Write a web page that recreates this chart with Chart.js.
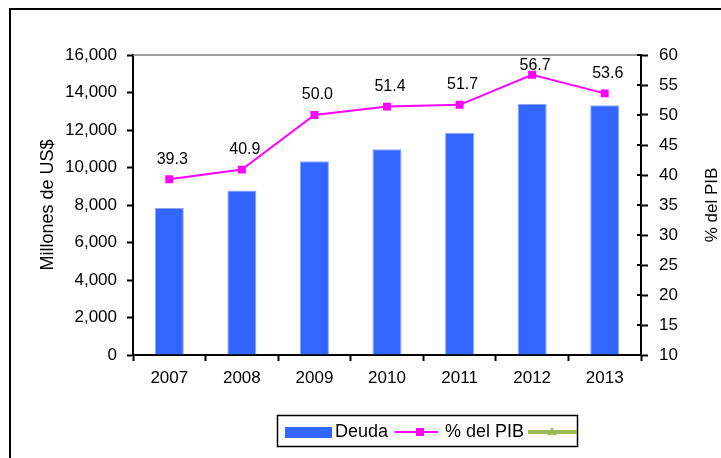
<!DOCTYPE html>
<html>
<head>
<meta charset="utf-8">
<script src="https://cdn.jsdelivr.net/npm/chart.js@4.4.1/dist/chart.umd.min.js"></script>
<style>
  html, body { margin: 0; padding: 0; background: #fff; }
  #wrap { width: 721px; height: 458px; }
</style>
</head>
<body>
<div id="wrap"><canvas id="deuda-pib" width="721" height="458"></canvas></div>
<script>
// Datos
const anios = ["2007", "2008", "2009", "2010", "2011", "2012", "2013"];
const deuda = [7860, 8780, 10330, 10970, 11860, 13400, 13320];
const pctPib = [39.3, 40.9, 50.0, 51.4, 51.7, 56.7, 53.6];
const serieVacia = [];
const ejeIzq = [0, 16000, 2000];
const ejeDer = [10, 60, 5];

const FONT = "'Liberation Sans', Arial, sans-serif";
const AZUL = "#3366FF";
const MAGENTA = "#FF00FF";
const VERDE = "#9BBB59";

// Marco exterior, borde superior del area y marcas cruzadas del eje derecho
const marcoPlugin = {
    id: "marco",
    beforeDraw(chart) {
        const ctx = chart.ctx;
        ctx.save();
        ctx.fillStyle = "#fff";
        ctx.fillRect(0, 0, chart.width, chart.height);
        ctx.strokeStyle = "#000";
        ctx.lineWidth = 2;
        ctx.beginPath();
        ctx.moveTo(10, chart.height + 5);
        ctx.lineTo(10, 9);
        ctx.lineTo(chart.width + 5, 9);
        ctx.stroke();
        ctx.restore();
    },
    afterDraw(chart) {
        const ctx = chart.ctx;
        const area = chart.chartArea;
        const y1 = chart.scales.y1;
        ctx.save();
        ctx.strokeStyle = "#808080";
        ctx.lineWidth = 1.5;
        ctx.beginPath();
        ctx.moveTo(area.left, area.top);
        ctx.lineTo(area.right, area.top);
        ctx.stroke();
        ctx.strokeStyle = "#000";
        ctx.lineWidth = 2;
        y1.ticks.forEach((t) => {
            const py = y1.getPixelForValue(t.value);
            ctx.beginPath();
            ctx.moveTo(area.right - 4, py);
            ctx.lineTo(area.right, py);
            ctx.stroke();
        });
        // titulo del eje derecho, leido de abajo hacia arriba
        ctx.fillStyle = "#000";
        ctx.font = "17px " + FONT;
        ctx.textAlign = "center";
        ctx.textBaseline = "middle";
        ctx.translate(712, (area.top + area.bottom) / 2);
        ctx.rotate(-Math.PI / 2);
        ctx.fillText("% del PIB", 0, 0);
        ctx.restore();
    },
};

// Etiquetas de valor sobre los puntos de la linea
const etiquetasPlugin = {
    id: "etiquetas",
    afterDatasetsDraw(chart) {
        const ctx = chart.ctx;
        const meta = chart.getDatasetMeta(1);
        const area = chart.chartArea;
        ctx.save();
        ctx.fillStyle = "#000";
        ctx.font = "16px " + FONT;
        ctx.textAlign = "center";
        ctx.textBaseline = "middle";
        meta.data.forEach((pt, i) => {
            const y = Math.max(pt.y - 20, area.top + 11);
            ctx.fillText(pctPib[i].toFixed(1), pt.x + 3, y);
        });
        ctx.restore();
    },
};

// Leyenda al estilo Excel
const leyendaPlugin = {
    id: "leyenda",
    afterDraw(chart) {
        const ctx = chart.ctx;
        const ds = chart.data.datasets;
        const cy = 432;
        ctx.save();
        ctx.strokeStyle = "#000";
        ctx.lineWidth = 1.5;
        ctx.strokeRect(277.5, 415.5, 300, 31);

        ctx.fillStyle = ds[0].backgroundColor;
        ctx.fillRect(285, 427, 47, 11);

        ctx.fillStyle = "#000";
        ctx.font = "18px " + FONT;
        ctx.textBaseline = "middle";
        ctx.textAlign = "left";
        ctx.fillText(ds[0].label, 335, cy);

        ctx.strokeStyle = ds[1].borderColor;
        ctx.lineWidth = 2;
        ctx.beginPath();
        ctx.moveTo(395, cy);
        ctx.lineTo(438, cy);
        ctx.stroke();
        ctx.fillStyle = ds[1].pointBackgroundColor;
        ctx.fillRect(416, cy - 4, 8, 8);

        ctx.fillStyle = "#000";
        ctx.fillText(ds[1].label, 445, cy);

        ctx.strokeStyle = ds[2].borderColor;
        ctx.lineWidth = 4;
        ctx.beginPath();
        ctx.moveTo(528, cy);
        ctx.lineTo(577, cy);
        ctx.stroke();
        ctx.fillStyle = ds[2].borderColor;
        ctx.beginPath();
        ctx.moveTo(552, cy - 5);
        ctx.lineTo(557, cy + 3);
        ctx.lineTo(547, cy + 3);
        ctx.closePath();
        ctx.fill();
        ctx.restore();
    },
};

function initChart() {
    const canvas = document.getElementById("deuda-pib");
    const config = {
        type: "bar",
        data: {
            labels: anios,
            datasets: [
                {
                    type: "bar",
                    label: "Deuda",
                    data: deuda,
                    yAxisID: "y",
                    backgroundColor: AZUL,
                    borderColor: "#8aa8ff",
                    borderWidth: 1,
                    barPercentage: 0.4,
                    categoryPercentage: 1,
                    order: 2,
                },
                {
                    type: "line",
                    label: "% del PIB",
                    data: pctPib,
                    yAxisID: "y1",
                    borderColor: MAGENTA,
                    borderWidth: 2,
                    pointStyle: "rect",
                    pointRadius: 5.6,
                    pointBackgroundColor: MAGENTA,
                    pointBorderWidth: 0,
                    tension: 0,
                    order: 1,
                },
                {
                    type: "line",
                    label: "",
                    data: serieVacia,
                    yAxisID: "y1",
                    borderColor: VERDE,
                    borderWidth: 4,
                    pointStyle: "triangle",
                    order: 0,
                },
            ],
        },
        options: {
            responsive: false,
            animation: false,
            devicePixelRatio: 1,
            layout: { padding: { top: 55, left: 33, right: 0, bottom: 0 } },
            plugins: {
                legend: { display: false },
                tooltip: { enabled: false },
            },
            scales: {
                x: {
                    grid: {
                        offset: true,
                        drawOnChartArea: false,
                        tickLength: 6,
                        tickWidth: 2,
                        tickColor: "#000",
                    },
                    border: { color: "#000", width: 2 },
                    ticks: { color: "#000", font: { family: FONT, size: 17 }, padding: 7 },
                    afterFit: (s) => { s.height = 103; },
                },
                y: {
                    position: "left",
                    min: ejeIzq[0],
                    max: ejeIzq[1],
                    ticks: {
                        stepSize: ejeIzq[2],
                        color: "#000",
                        font: { family: FONT, size: 17 },
                        padding: 10,
                        callback: (v) => v.toLocaleString("en-US"),
                    },
                    grid: {
                        drawOnChartArea: false,
                        tickLength: 6,
                        tickWidth: 2,
                        tickColor: "#000",
                    },
                    border: { color: "#000", width: 2 },
                    title: {
                        display: true,
                        text: "Millones de US$",
                        color: "#000",
                        font: { family: FONT, size: 18 },
                        padding: { top: 4, bottom: 4 },
                    },
                    afterFit: (s) => { s.width = 100; },
                },
                y1: {
                    position: "right",
                    min: ejeDer[0],
                    max: ejeDer[1],
                    ticks: {
                        stepSize: ejeDer[2],
                        color: "#000",
                        font: { family: FONT, size: 17 },
                        padding: 11,
                    },
                    grid: {
                        drawOnChartArea: false,
                        tickLength: 7,
                        tickWidth: 2,
                        tickColor: "#000",
                    },
                    border: { color: "#000", width: 2 },
                    afterFit: (s) => { s.width = 80; },
                },
            },
        },
        plugins: [marcoPlugin, etiquetasPlugin, leyendaPlugin],
    };
    canvas.chart = new Chart(canvas, config);
}

document.addEventListener("DOMContentLoaded", initChart);
</script>
</body>
</html>
